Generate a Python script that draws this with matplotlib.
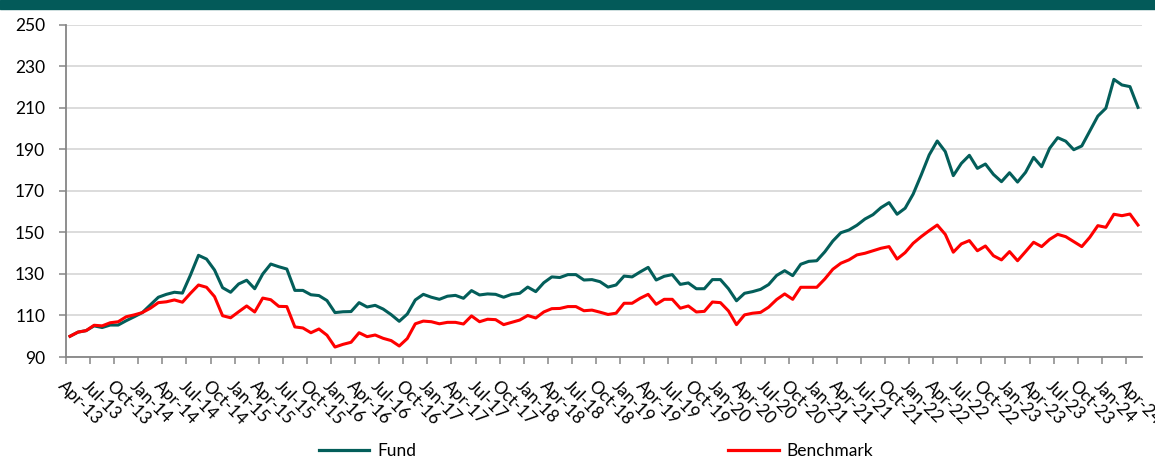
import matplotlib
matplotlib.use("Agg")
import matplotlib.pyplot as plt
from matplotlib.patches import Rectangle
from matplotlib.lines import Line2D

# ---------------- data ----------------
fund = [100, 102, 102.7, 105.0, 104.2, 105.4, 105.4, 107.5, 109.4, 111.4, 115.1, 118.8, 120.2,
        121.2, 120.8, 129.5, 139.0, 137.2, 131.9, 123.4, 121.2, 125.2, 127.0, 122.9, 130.0, 134.8, 133.5,
        132.4, 122.1, 122.1, 120.0, 119.6, 117.2, 111.4, 111.8, 111.9, 116.2, 114.1, 114.9, 113.1,
        110.4, 107.2, 110.7, 117.5, 120.2, 118.8, 117.8, 119.3, 119.7, 118.3, 122.0, 119.9, 120.4, 120.2,
        118.8, 120.2, 120.7, 123.7, 121.5, 125.8, 128.6, 128.3, 129.7, 129.7, 127.1, 127.3, 126.3,
        123.7, 124.7, 129.0, 128.6, 131.0, 133.2, 127.1, 128.9, 129.7, 125.0, 125.7, 122.9, 122.9,
        127.3, 127.3, 122.9, 117.1, 120.7, 121.5, 122.6, 124.9, 129.3, 131.6, 129.2, 134.7, 136.1,
        136.4, 140.7, 145.9, 149.9, 151.2, 153.5, 156.5, 158.6, 162.0, 164.4, 158.8, 161.7, 168.5,
        177.7, 187.4, 194.1, 189.0, 177.4, 183.3, 187.2, 180.9, 183.0, 178.0, 174.5, 178.8, 174.3,
        179.0, 186.2, 181.7, 190.6, 195.7, 194.0, 189.9, 191.7, 198.9, 206.1, 209.9, 223.8, 221.1,
        220.3, 210.3]

benchmark = [100, 102.0, 102.7, 105.3, 105.0, 106.5, 107.0, 109.4, 110.3, 111.4, 113.5, 116.2, 116.6,
             117.5, 116.4, 120.7, 124.7, 123.6, 119.1, 109.9, 108.9, 111.8, 114.6, 111.7, 118.4, 117.6, 114.4,
             114.3, 104.5, 104.0, 101.7, 103.5, 100.5, 94.8, 96.1, 97.1, 101.7, 99.8, 100.6, 99.0,
             97.9, 95.3, 98.9, 106.0, 107.3, 107.0, 106.0, 106.7, 106.7, 105.9, 109.8, 107.0, 108.2, 108.0,
             105.6, 106.7, 107.8, 110.0, 108.8, 111.7, 113.3, 113.4, 114.3, 114.3, 112.3, 112.6, 111.6,
             110.5, 111.1, 115.9, 115.9, 118.3, 120.2, 115.4, 117.8, 117.8, 113.5, 114.6, 111.7, 112.0,
             116.5, 116.2, 112.2, 105.6, 110.3, 111.1, 111.5, 114.0, 117.7, 120.4, 117.8, 123.6, 123.6,
             123.6, 127.6, 132.3, 135.2, 136.8, 139.2, 140.0, 141.2, 142.4, 143.2, 137.2, 140.3, 144.8,
             148.0, 150.9, 153.6, 149.1, 140.5, 144.5, 146.1, 141.2, 143.5, 138.8, 136.8, 140.8, 136.4,
             140.8, 145.3, 143.2, 146.7, 149.1, 148.0, 145.6, 143.2, 147.7, 153.3, 152.5, 158.8, 158.1,
             158.9, 153.6]

tick_labels = ["Apr-13", "Jul-13", "Oct-13", "Jan-14", "Apr-14", "Jul-14", "Oct-14", "Jan-15",
               "Apr-15", "Jul-15", "Oct-15", "Jan-16", "Apr-16", "Jul-16", "Oct-16", "Jan-17",
               "Apr-17", "Jul-17", "Oct-17", "Jan-18", "Apr-18", "Jul-18", "Oct-18", "Jan-19",
               "Apr-19", "Jul-19", "Oct-19", "Jan-20", "Apr-20", "Jul-20", "Oct-20", "Jan-21",
               "Apr-21", "Jul-21", "Oct-21", "Jan-22", "Apr-22", "Jul-22", "Oct-22", "Jan-23",
               "Apr-23", "Jul-23", "Oct-23", "Jan-24", "Apr-24"]
series_names = ["Fund", "Benchmark"]
y_ticks = [90, 110, 130, 150, 170, 190, 210, 230, 250]

# ---------------- style ----------------
plt.rcParams['font.family'] = ['Lato', 'DejaVu Sans']
FUND_C = '#035E5A'
BENCH_C = '#FF0000'
AXIS_C = '#868686'
GRID_C = '#D9D9D9'
FS = 12.5

W, H = 1155, 461
fig = plt.figure(figsize=(W / 100, H / 100), dpi=100)
fig.patches.append(Rectangle((0, 1 - 9 / H), 1, 9 / H, transform=fig.transFigure,
                             color='#035A59', zorder=0))

L, R, T, B = 66, 1142, 25, 357
ax = fig.add_axes([L / W, 1 - B / H, (R - L) / W, (B - T) / H])

n = len(fund)
x = list(range(n))
ax.plot(x, fund, color=FUND_C, lw=2.2, solid_joinstyle='round', zorder=3)
ax.plot(x, benchmark, color=BENCH_C, lw=2.2, solid_joinstyle='round', zorder=3)

ax.set_xlim(-0.5, n - 0.5)
ax.set_ylim(90, 250)
ax.set_yticks(y_ticks)
ax.set_yticklabels([str(v) for v in y_ticks], fontsize=FS)
ax.yaxis.grid(True, color=GRID_C, lw=1.3)
ax.set_axisbelow(True)

ax.set_xticks([-0.5 + 3 * k for k in range(len(tick_labels))])
ax.set_xticklabels(tick_labels, rotation=-45, ha='left', va='top',
                   rotation_mode='anchor', fontsize=FS)

for s in ['top', 'right']:
    ax.spines[s].set_visible(False)
for s in ['left', 'bottom']:
    ax.spines[s].set_color(AXIS_C)
    ax.spines[s].set_linewidth(1.3)
ax.tick_params(axis='y', length=5, width=1.1, color=AXIS_C, pad=10, labelcolor='black')
ax.tick_params(axis='x', length=5, width=1.1, color=AXIS_C, pad=10, labelcolor='black')

handles = [Line2D([], [], color=FUND_C, lw=2.3), Line2D([], [], color=BENCH_C, lw=2.3)]
fig.legend(handles, series_names, loc='center', bbox_to_anchor=(596 / W, 1 - 451 / H),
           ncol=2, frameon=False, fontsize=FS, handlelength=2.9, handletextpad=0.45,
           columnspacing=18.0, borderaxespad=0)

fig.savefig('out.png', dpi=100)
